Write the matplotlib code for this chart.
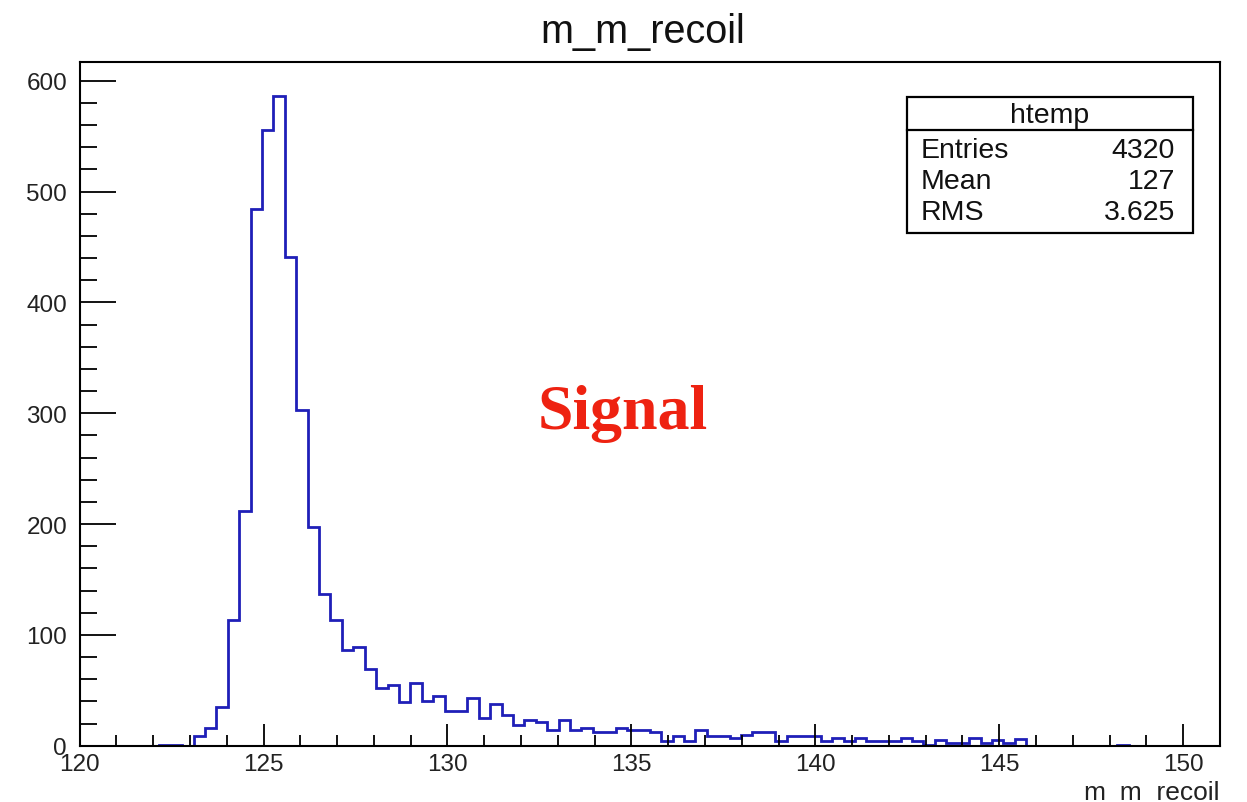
import numpy as np
import matplotlib
matplotlib.use("Agg")
import matplotlib.pyplot as plt
from matplotlib.ticker import MultipleLocator
from matplotlib.patches import Rectangle
from matplotlib.lines import Line2D

# ---- data ----
x_min, x_max, n_bins = 120.0, 151.0, 100
bin_counts = [
    0, 0, 0, 0, 0, 0, 0, 1, 1, 0,
    9, 16, 35, 113, 212, 484, 556, 586, 441, 303,
    197, 137, 113, 86, 89, 69, 52, 55, 39, 57,
    40, 45, 31, 31, 43, 25, 38, 28, 19, 23,
    21, 14, 23, 14, 16, 12, 12, 16, 14, 14,
    12, 4, 9, 4, 14, 9, 9, 7, 10, 12,
    12, 4, 9, 9, 9, 4, 7, 4, 7, 4,
    4, 4, 7, 4, 1, 5, 2, 2, 7, 2,
    5, 2, 6, 0, 0, 0, 0, 0, 0, 0,
    0, 1, 0, 0, 0, 0, 0, 0, 0, 0,
]
title = "m_m_recoil"
x_label = "m_m_recoil"
stats_name = "htemp"
stats_rows = [("Entries", "4320"), ("Mean", "127"), ("RMS", "3.625")]
annotation = "Signal"

W, H = 1247, 803
fig = plt.figure(figsize=(W / 100, H / 100), dpi=100)
fig.patch.set_facecolor("white")

def fx(px):
    return px / W

def fy(py):
    return 1 - py / H

ax_l, ax_r, ax_t, ax_b = 79.6, 1220.0, 63.0, 746.7
ax = fig.add_axes([fx(ax_l), fy(ax_b), fx(ax_r) - fx(ax_l), fy(ax_t) - fy(ax_b)])

edges = np.linspace(x_min, x_max, n_bins + 1)
ax.stairs(bin_counts, edges, color="#1f1fb8", linewidth=2.0, zorder=1)

ax.set_xlim(x_min, x_max)
ax.set_ylim(0, 617)

ax.xaxis.set_major_locator(MultipleLocator(5))
ax.xaxis.set_minor_locator(MultipleLocator(1))
ax.yaxis.set_major_locator(MultipleLocator(100))
ax.yaxis.set_minor_locator(MultipleLocator(20))

fam = ["Liberation Sans", "DejaVu Sans"]
ax.tick_params(axis="both", which="both", direction="in", color="black",
               width=1.3, labelcolor="#222222", labelsize=17.5)
ax.tick_params(axis="x", which="major", length=16, pad=5.5)
ax.tick_params(axis="x", which="minor", length=8)
ax.tick_params(axis="y", which="major", length=26, pad=9)
ax.tick_params(axis="y", which="minor", length=12.5)
ax.tick_params(top=False, right=False, which="both")
for lab in ax.get_xticklabels() + ax.get_yticklabels():
    lab.set_family(fam)
for sp in ax.spines.values():
    sp.set_linewidth(1.5)
    sp.set_color("black")

# title
fig.text(fx(643), fy(43), title, ha="center", va="baseline",
         fontsize=28.5, family=fam, color="#111111")

# x axis title (bottom right, underscores clipped)
fig.text(fx(1220), fy(800), x_label, ha="right", va="baseline",
         fontsize=19, family=fam, color="#222222")

# stats box
bx0, by0, bx1, by1 = 906.7, 98.3, 1193.3, 234.0
sep = 130.7
fig.patches.append(Rectangle((fx(bx0), fy(by1)), fx(bx1) - fx(bx0), fy(by0) - fy(by1),
                             transform=fig.transFigure, facecolor="white",
                             edgecolor="black", linewidth=1.6, zorder=5))
fig.lines.append(Line2D([fx(bx0), fx(bx1)], [fy(sep), fy(sep)],
                        transform=fig.transFigure, color="black", linewidth=1.6, zorder=6))
fig.text(fx((bx0 + bx1) / 2), fy(116), stats_name, ha="center", va="center",
         fontsize=20.5, family=fam, color="#111111", zorder=7)
row_y = [151, 182, 213]
for (k, v), yy in zip(stats_rows, row_y):
    fig.text(fx(921), fy(yy), k, ha="left", va="center", fontsize=20.5,
             family=fam, color="#111111", zorder=7)
    fig.text(fx(1175), fy(yy), v, ha="right", va="center", fontsize=20.5,
             family=fam, color="#111111", zorder=7)

# annotation
fig.text(fx(623), fy(429), annotation, ha="center", va="baseline",
         fontsize=46, fontweight="bold", family=["Liberation Serif", "DejaVu Serif"],
         color="#ee2211")

fig.savefig("out.png", dpi=100, facecolor="white")
